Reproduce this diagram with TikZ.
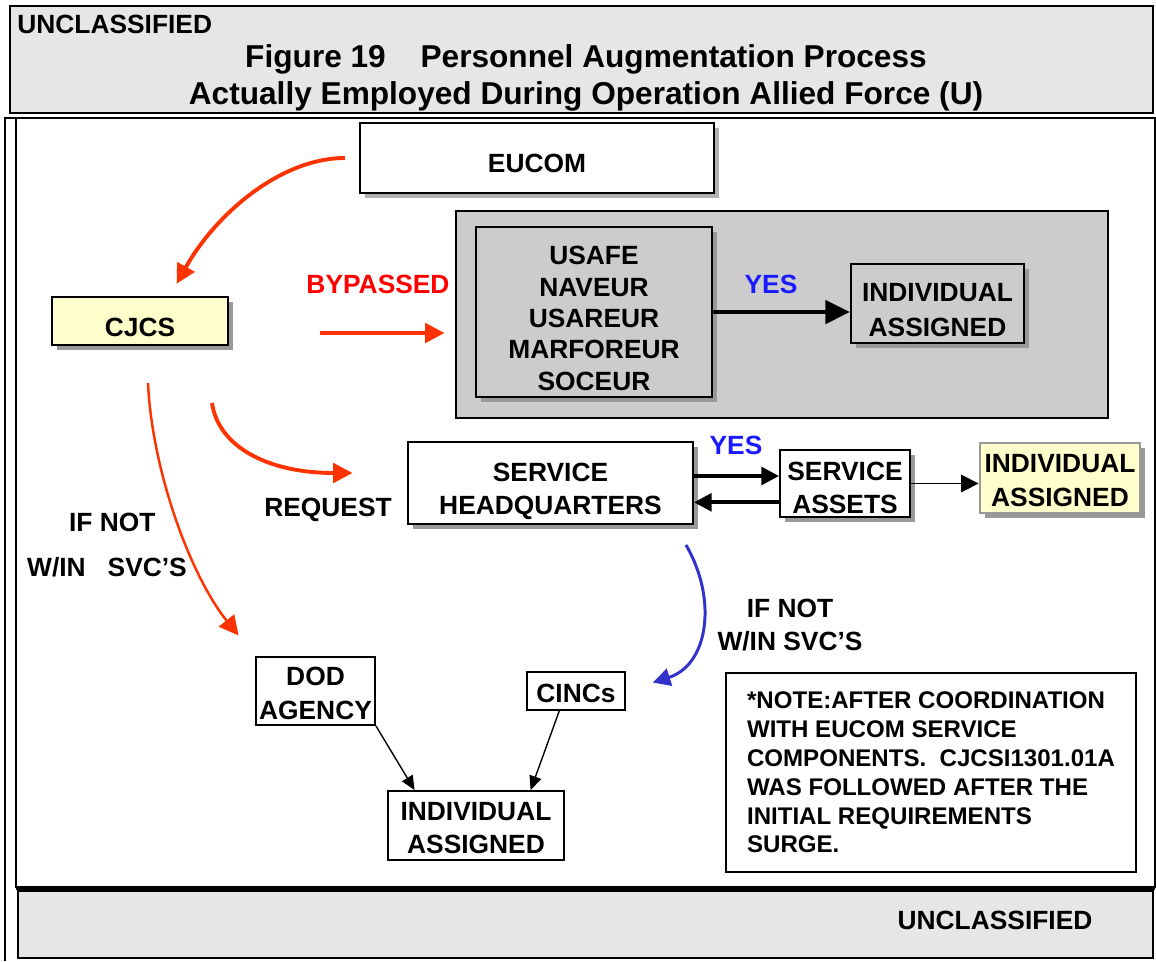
\documentclass[tikz,border=0pt]{standalone}
\usepackage{fontspec}
\setmainfont{Liberation Sans}
\usepackage{tikz}
\usetikzlibrary{arrows.meta,shadows}

\definecolor{arrowred}{HTML}{FF3300}
\definecolor{textred}{HTML}{FF0000}
\definecolor{textblue}{HTML}{1A1AFF}
\definecolor{arrowblue}{HTML}{3333CC}
\definecolor{paleyellow}{HTML}{FFFFCC}
\definecolor{bargray}{HTML}{E6E6E6}
\definecolor{areagray}{HTML}{CCCCCC}
\newcommand\pw{0.02cm}
\newcommand\boxfont{\bfseries\fontsize{15}{19}\selectfont}
\newcommand\titlefont{\bfseries\fontsize{18}{21}\selectfont}
\newcommand\notefont{\bfseries\fontsize{13.7}{16.4}\selectfont}

\begin{document}
\begin{tikzpicture}[x=0.02cm,y=-0.02cm,line join=miter]
  \tikzstyle{box}=[draw,line width=1.1pt,fill=white,align=center,inner sep=0pt,font=\boxfont]
  \tikzstyle{lbl}=[inner sep=0pt,align=center,font=\boxfont]
  \tikzstyle{shadowed}=[drop shadow={shadow xshift=2.8pt,shadow yshift=-2.8pt,opacity=1,fill=black!40}]
  \tikzstyle{redarrow}=[draw=arrowred,line width=2.2pt,-{Triangle[length=11pt,width=11pt]}]
  \tikzstyle{bluearrow}=[draw=arrowblue,line width=1.7pt,-{Triangle[length=10pt,width=10pt]}]
  \tikzstyle{bigarrow}=[draw=black,line width=2.8pt,-{Triangle[length=14pt,width=13pt]}]
  \tikzstyle{midarrow}=[draw=black,line width=2.2pt,-{Triangle[length=10pt,width=10pt]}]
  \tikzstyle{thinarrow}=[draw=black,line width=0.8pt,-{Triangle[length=8pt,width=7pt]}]
  \tikzset{boxsize/.style 2 args={minimum width=#1*\pw,minimum height=#2*\pw},
    lower/.style={execute at begin node={\rule{0pt}{#1}}}}

  \useasboundingbox (0,0) rectangle (1156,961);

  % header and frame
  \filldraw[fill=bargray,line width=1.4pt] (10,6) rectangle (1153,113);
  \node[lbl,anchor=west] (topmark) at (17,24) {UNCLASSIFIED};
  \node[lbl,font=\titlefont] (title) at (586,78)
    {Figure 19\hspace{1.1em}Personnel Augmentation Process\\
     Actually Employed During Operation Allied Force (U)};
  \draw[line width=1.4pt] (5,961) -- (5,118) -- (1155,118) -- (1155,888);
  \draw[line width=0.8pt] (16,118) -- (16,888);
  \draw[line width=1.8pt] (16,888) -- (1155,888);
  \filldraw[fill=bargray,line width=1.4pt] (18,891) rectangle (1153,958);
  \node[lbl] (botmark) at (995,920) {UNCLASSIFIED};

  % boxes
  \node[box,lower=16.7pt,boxsize={354}{70},drop shadow={shadow xshift=2.8pt,shadow yshift=-2.8pt,opacity=1,fill=black!30}]
    (eucom) at (537,158) {EUCOM};
  \node[box,fill=areagray,boxsize={652}{207}] (cmds) at (782,314.5) {};
  \node[box,fill=areagray,shadowed,lower=89.4pt,boxsize={236}{170},font=\bfseries\fontsize{15}{17.9}\selectfont]
    (usafe) at (594,312) {USAFE\\NAVEUR\\USAREUR\\MARFOREUR\\SOCEUR};
  \node[box,fill=areagray,shadowed,lower=37.6pt,boxsize={173}{79},font=\bfseries\fontsize{15}{19.8}\selectfont]
    (indivA) at (937.5,303.5) {INDIVIDUAL\\ASSIGNED};
  \node[box,fill=paleyellow,shadowed,lower=17.8pt,boxsize={176}{48}] (cjcs) at (140,321) {CJCS};
  \node[box,shadowed,lower=39pt,boxsize={285}{82}] (svchq) at (550.5,483) {SERVICE\\HEADQUARTERS};
  \node[box,shadowed,lower=34.5pt,boxsize={130}{67}] (assets) at (845,483.5) {SERVICE\\ASSETS};
  \node[box,fill=paleyellow,draw=black!40,line width=1.6pt,shadowed,lower=32.3pt,boxsize={160}{70}]
    (indivB) at (1060,478) {INDIVIDUAL\\ASSIGNED};
  \node[box,lower=32.3pt,boxsize={119}{68}] (dod) at (315.5,691) {DOD\\AGENCY};
  \node[box,lower=13.5pt,boxsize={98}{38}] (cincs) at (576,691) {CINCs};
  \node[box,lower=32.3pt,boxsize={176}{69}] (indivC) at (476,825.5) {INDIVIDUAL\\ASSIGNED};
  \node[box,boxsize={410}{199},align=left,font=\notefont] (note) at (931,772.5)
    {*NOTE:AFTER COORDINATION\\WITH EUCOM SERVICE\\COMPONENTS.\ \ CJCSI1301.01A\\
     WAS FOLLOWED AFTER THE\\INITIAL REQUIREMENTS\\SURGE.};

  % labels
  \node[lbl,text=textred] (bypassed) at (378,284) {BYPASSED};
  \node[lbl,text=textblue] (yesA) at (771,284) {YES};
  \node[lbl,text=textblue] (yesB) at (736,445) {YES};
  \node[lbl] (request) at (328,510) {REQUEST};
  \node[lbl] (ifnotA) at (107,545) {\hspace{6pt}IF NOT\\[7pt]W/IN\ \ \ SVC’S};
  \node[lbl] (ifnotB) at (790,625) {IF NOT\\W/IN SVC’S};

  % connectors
  \coordinate (bypfrom) at (320,333);
  \coordinate (reqfrom) at (212,403);
  \coordinate (ifnotfrom) at (148,383);
  \coordinate (svcfrom) at (686,545);
  \coordinate (hqtop) at ([yshift=4pt]svchq.east);
  \coordinate (hqbot) at ([yshift=-11pt]svchq.east);

  \draw[redarrow,shorten <=8pt,shorten >=8pt] (eucom.west) .. controls (280,158) and (215,215) .. (cjcs.40);
  \draw[redarrow,shorten >=6pt] (bypfrom) -- (bypfrom -| cmds.west);
  \draw[redarrow,shorten >=31pt] (reqfrom) .. controls (218,445) and (265,473) .. ([yshift=5.7pt]svchq.west);
  \draw[redarrow,line width=1.4pt,shorten >=15pt] (ifnotfrom) .. controls (152,470) and (190,575) .. (dod.north west);
  \draw[bluearrow,shorten >=16pt] (svcfrom) .. controls (718,600) and (708,665) .. (cincs.east);

  \draw[bigarrow] (usafe.east) -- (usafe.east -| indivA.west);
  \draw[midarrow] (hqtop) -- (hqtop -| assets.west);
  \draw[midarrow] (hqbot -| assets.west) -- (hqbot);
  \draw[thinarrow,-{Triangle[length=10pt,width=10pt]}] (assets.east) -- (assets.east -| indivB.west);
  \draw[thinarrow] (dod.south east) -- (indivC.150);
  \draw[thinarrow] (cincs.-130) -- (indivC.33);
\end{tikzpicture}
\end{document}
